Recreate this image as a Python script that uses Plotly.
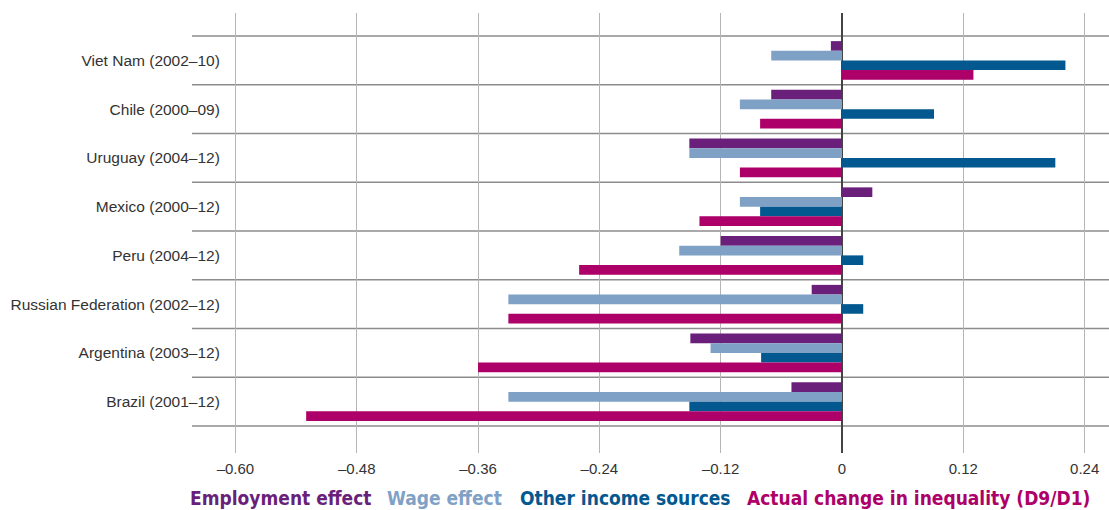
import plotly.graph_objects as go

countries = ["Viet Nam (2002–10)", "Chile (2000–09)", "Uruguay (2004–12)", "Mexico (2000–12)",
             "Peru (2004–12)", "Russian Federation (2002–12)", "Argentina (2003–12)", "Brazil (2001–12)"]
employment = [-0.011, -0.070, -0.151, 0.030, -0.120, -0.030, -0.150, -0.050]
wage = [-0.070, -0.101, -0.151, -0.101, -0.161, -0.330, -0.130, -0.330]
other = [0.221, 0.091, 0.211, -0.081, 0.021, 0.021, -0.080, -0.151]
actual = [0.130, -0.081, -0.101, -0.141, -0.260, -0.330, -0.360, -0.530]

series_names = ["Employment effect", "Wage effect", "Other income sources", "Actual change in inequality (D9/D1)"]
series_vals = [employment, wage, other, actual]
colors = ["#6a1f7a", "#7fa1c6", "#02588f", "#ad0068"]
xticks = [-0.60, -0.48, -0.36, -0.24, -0.12, 0, 0.12, 0.24]
xticklabels = ["–0.60", "–0.48", "–0.36", "–0.24", "–0.12", "0", "0.12", "0.24"]

fig = go.Figure()
for name, vals, c in zip(series_names, series_vals, colors):
    fig.add_trace(go.Bar(y=countries, x=vals, orientation="h", name=name,
                         marker=dict(color=c, line=dict(width=0)), showlegend=False))

L, R, T, B = 228, 1109, 13, 453
W, H = 1109, 510
px_per = 1011.0
xmin = (L - 842) / px_per
xmax = (R - 842) / px_per
cat_h = 48.75
ytop = -0.5 - (36 - T) / cat_h
ybot = 7.5 + (B - 426) / cat_h

shapes = []
for k in range(len(countries) + 1):
    shapes.append(dict(type="line", xref="paper", yref="y", x0=(192 - L) / (R - L), x1=1,
                       y0=k - 0.5, y1=k - 0.5, line=dict(color="#8c8c8c", width=1.5), layer="below"))

fig.update_layout(
    width=W, height=H,
    margin=dict(l=L, r=W - R, t=T, b=H - B, pad=0),
    paper_bgcolor="white", plot_bgcolor="white",
    barmode="group", bargap=0.21, bargroupgap=0,
    font=dict(family="Liberation Sans, Arial, sans-serif", size=15, color="#333333"),
    xaxis=dict(range=[xmin, xmax], tickvals=xticks, ticktext=xticklabels,
               showgrid=True, gridcolor="#b5b5b5", gridwidth=1.2,
               zeroline=True, zerolinecolor="#444444", zerolinewidth=1.5,
               showline=False, ticks="outside", ticklen=2, tickcolor="rgba(0,0,0,0)",
               tickfont=dict(size=15)),
    yaxis=dict(range=[ybot, ytop], type="category", showgrid=False, zeroline=False,
               showline=False, ticks="outside", ticklen=4, tickcolor="rgba(0,0,0,0)",
               tickfont=dict(size=15.5)),
    shapes=shapes,
)

legend_x = [188, 385, 518, 745]
for name, c, lx in zip(series_names, colors, legend_x):
    fig.add_annotation(xref="paper", yref="paper", x=(lx - L) / (R - L), y=(B - 498) / (B - T),
                       xanchor="left", yanchor="middle", showarrow=False,
                       text="<span style=\"font-stretch:condensed\"><b>" + name + "</b></span>",
                       font=dict(family="DejaVu Sans Condensed, DejaVu Sans, sans-serif",
                                 size=19, color=c))

fig.write_html("out.html", config={"displayModeBar": False},
               post_script="document.body.style.margin='0';document.body.style.padding='0';")
